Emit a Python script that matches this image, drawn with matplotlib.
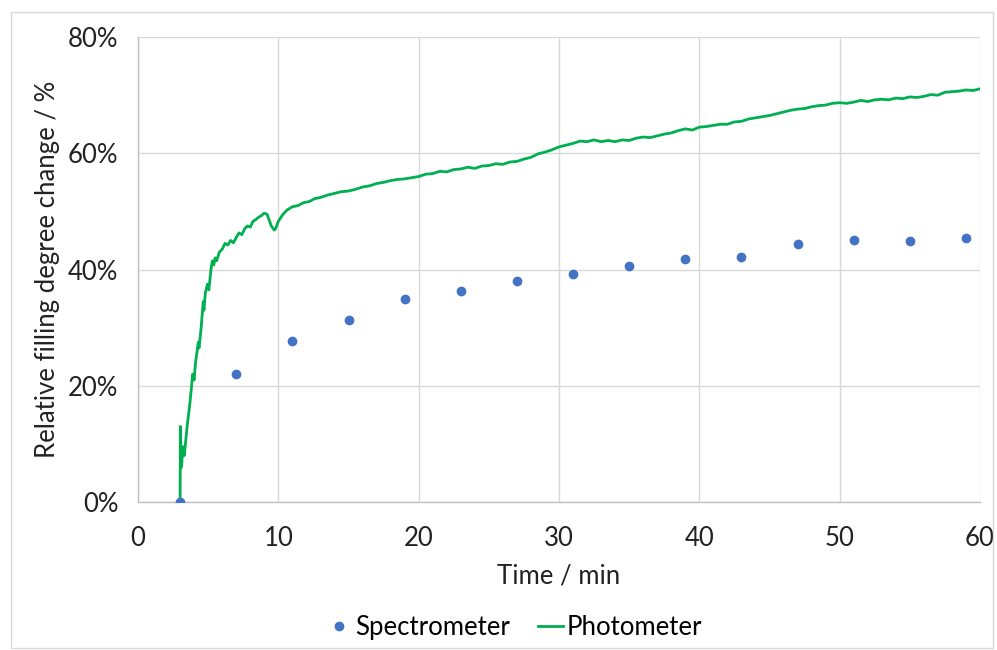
import matplotlib.pyplot as plt
from matplotlib.patches import Rectangle
from matplotlib.ticker import PercentFormatter

plt.rcParams['font.family'] = ['Lato', 'DejaVu Sans']

# Spectrometer (punktuelle Messungen)
spec_t = [3, 7, 11, 15, 19, 23, 27, 31, 35, 39, 43, 47, 51, 55, 59]
spec_y = [0.0, 22.0, 27.7, 31.3, 34.9, 36.3, 38.0, 39.2, 40.6, 41.8, 42.2, 44.4, 45.1, 44.9, 45.4]

# Photometer (kontinuierlich)
photo_t = [3.0, 3.02, 3.1, 3.2, 3.3, 3.5, 3.7, 3.9, 4.0, 4.1, 4.3, 4.35, 4.5, 4.65, 4.7,
           4.8, 4.95, 5.05, 5.2, 5.3, 5.4, 5.5, 5.6, 5.8, 6.0, 6.2, 6.4, 6.6, 6.8, 7.0,
           7.2, 7.4, 7.6, 7.8, 8.0, 8.2, 8.4, 8.6, 8.8, 9.0, 9.2, 9.35, 9.5, 9.7, 9.8,
           10.0, 10.3, 10.6, 11.0, 11.4, 11.8, 12.2, 12.6, 13.0, 13.5, 14.0, 14.5, 15.0,
           15.5, 16.0, 16.5, 17.0, 17.5, 18.0, 18.5, 19.0, 19.5, 20.0, 20.5, 21.0, 21.5,
           22.0, 22.5, 23.0, 23.5, 24.0, 24.5, 25.0, 25.5, 26.0, 26.5, 27.0, 27.5, 28.0,
           28.5, 29.0, 29.5, 30.0, 30.5, 31.0, 31.5, 32.0, 32.5, 33.0, 33.5, 34.0, 34.5,
           35.0, 35.5, 36.0, 36.5, 37.0, 37.5, 38.0, 38.5, 39.0, 39.5, 40.0, 40.5, 41.0,
           41.5, 42.0, 42.5, 43.0, 43.5, 44.0, 44.5, 45.0, 45.5, 46.0, 46.5, 47.0, 47.5,
           48.0, 48.5, 49.0, 49.5, 50.0, 50.5, 51.0, 51.5, 52.0, 52.5, 53.0, 53.5, 54.0,
           54.5, 55.0, 55.5, 56.0, 56.5, 57.0, 57.5, 58.0, 58.5, 59.0, 59.5, 60.0]
photo_y = [0.0, 13.0, 6.0, 9.5, 8.0, 13.0, 17.0, 22.0, 21.0, 24.0, 27.5, 26.5, 30.0, 34.5, 33.0,
           36.0, 37.5, 36.5, 40.0, 41.5, 40.8, 42.0, 41.5, 43.0, 43.5, 44.5, 44.2, 45.0, 44.6, 45.5,
           46.3, 46.0, 47.0, 47.5, 47.3, 48.3, 48.6, 49.0, 49.3, 49.7, 49.5, 48.5, 47.5, 46.8, 47.0,
           48.3, 49.4, 50.2, 50.8, 51.0, 51.5, 51.7, 52.2, 52.4, 52.8, 53.1, 53.4, 53.5,
           53.8, 54.2, 54.4, 54.8, 55.0, 55.3, 55.5, 55.6, 55.8, 56.0, 56.4, 56.5, 56.9,
           56.8, 57.2, 57.3, 57.6, 57.4, 57.8, 57.9, 58.2, 58.1, 58.5, 58.6, 59.0, 59.3,
           59.9, 60.2, 60.6, 61.1, 61.4, 61.7, 62.1, 62.0, 62.3, 62.0, 62.2, 62.0, 62.3,
           62.2, 62.6, 62.8, 62.7, 63.0, 63.3, 63.5, 63.9, 64.2, 64.0, 64.5, 64.6, 64.8,
           65.0, 65.0, 65.4, 65.5, 65.9, 66.1, 66.3, 66.5, 66.8, 67.1, 67.4, 67.6, 67.7,
           68.0, 68.2, 68.3, 68.6, 68.7, 68.6, 68.8, 69.1, 68.9, 69.2, 69.3, 69.2, 69.5,
           69.4, 69.7, 69.6, 69.8, 70.1, 70.0, 70.5, 70.6, 70.7, 70.9, 70.8, 71.1]

fig = plt.figure(figsize=(9.97, 6.5), dpi=100)
ax = fig.add_axes([0.1384, 0.2277, 0.8446, 0.7153])

ax.plot(spec_t, spec_y, 'o', color='#4472C4', markersize=6, label='Spectrometer', zorder=3)
ax.plot(photo_t, photo_y, '-', color='#00B050', linewidth=2.0, label='Photometer', zorder=2)

ax.set_xlim(0, 60)
ax.set_ylim(0, 80)
ax.set_xticks(range(0, 61, 10))
ax.set_yticks(range(0, 81, 20))
ax.yaxis.set_major_formatter(PercentFormatter(decimals=0))
ax.tick_params(axis='y', length=0, labelsize=18.5, colors='#222222', pad=14)
ax.tick_params(axis='x', length=0, labelsize=18.5, colors='#222222', pad=17)
ax.grid(True, color='#d9d9d9', linewidth=1)
ax.set_axisbelow(True)
for side in ['top', 'right']:
    ax.spines[side].set_visible(False)
for side in ['left', 'bottom']:
    ax.spines[side].set_color('#bfbfbf')
    ax.spines[side].set_linewidth(1)

ax.set_xlabel('Time / min', fontsize=18.5, color='#222222', labelpad=9)
ax.set_ylabel('Relative filling degree change / %', fontsize=18.5, color='#222222', labelpad=6)

fig.legend(loc='center', bbox_to_anchor=(0.516, 0.034), ncol=2, frameon=False, fontsize=18.5,
           handlelength=0.95, handletextpad=0.15, columnspacing=1.1)

# aeusserer Rahmen wie im Excel-Diagramm
fig.patches.append(Rectangle((0.011, 0.003), 0.985, 0.978, transform=fig.transFigure,
                             fill=False, edgecolor='#d9d9d9', linewidth=1))

fig.savefig('out.png', dpi=100)
